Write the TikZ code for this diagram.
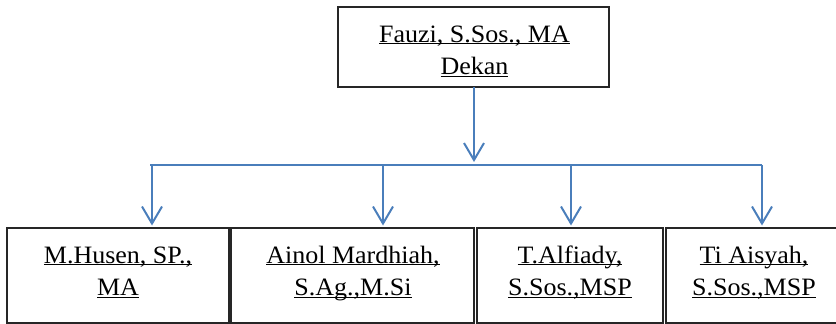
\documentclass[tikz,border=0pt]{standalone}
\usepackage{fontspec}
\setmainfont{Liberation Serif}[FakeStretch=1.04]
\usetikzlibrary{arrows.meta}
\definecolor{linkblue}{HTML}{4A7EBB}
% underline drawn just below the baseline, over the full width of the text
\newcommand\ulx[1]{\setbox0\hbox{#1}\rlap{\rule[-2.4pt]{\wd0}{1.1pt}}\box0}
\newcommand\twolines[2]{\begin{tabular}[t]{@{}c@{}}\ulx{#1}\\\ulx{#2}\end{tabular}}
\tikzset{
  box/.style={draw=black!85, line width=1.2pt, rectangle, inner sep=0pt, outer sep=0pt},
  lbl/.style={inner sep=0pt, anchor=base, font=\fontsize{25}{32.5}\selectfont},
  bus/.style={draw=linkblue, line width=2pt},
  link/.style={draw=linkblue, line width=2pt,
    -{Straight Barb[length=17pt, width=20pt, line width=2pt]}},
}
\begin{document}
\begin{tikzpicture}[x=1pt, y=-1pt]
  \clip (0,0) rectangle (836,324);

  % boxes
  \node[box, minimum width=271pt, minimum height=80pt] (top) at (473.5,47) {};
  \node[box, minimum width=222pt, minimum height=95pt] (b1) at (118,275.5) {};
  \node[box, minimum width=243pt, minimum height=95pt] (b2) at (352.5,275.5) {};
  \node[box, minimum width=186pt, minimum height=95pt] (b3) at (570,275.5) {};
  \node[box, minimum width=176pt, minimum height=95pt] (b4) at (754,275.5) {};

  % names
  \node[lbl] (t0) at (474.5,42) {\twolines{Fauzi, S.Sos., MA}{Dekan}};
  \node[lbl] (t1) at (118,263) {\twolines{M.Husen, SP.,}{MA}};
  \node[lbl] (t2) at (353,263) {\twolines{Ainol Mardhiah,}{S.Ag.,M.Si}};
  \node[lbl] (t3) at (570,263) {\twolines{T.Alfiady,}{S.Sos.,MSP}};
  \node[lbl] (t4) at (754,263) {\twolines{Ti Aisyah,}{S.Sos.,MSP}};

  % distribution line
  \coordinate (jL) at (150,165);
  \coordinate (j0) at (474,165);
  \coordinate (j1) at (152,165);
  \coordinate (j2) at (383,165);
  \coordinate (j3) at (571,165);
  \coordinate (j4) at (762,165);
  \draw[bus] (jL) -- (j4);

  % connectors
  \draw[link, shorten >=3pt] (j0 |- top.south) -- (j0);
  \draw[link, shorten >=2.5pt] (j1) -- (j1 |- b1.north);
  \draw[link, shorten >=2.5pt] (j2) -- (j2 |- b2.north);
  \draw[link, shorten >=2.5pt] (j3) -- (j3 |- b3.north);
  \draw[link, shorten >=2.5pt] (j4) -- (j4 |- b4.north);
\end{tikzpicture}
\end{document}
